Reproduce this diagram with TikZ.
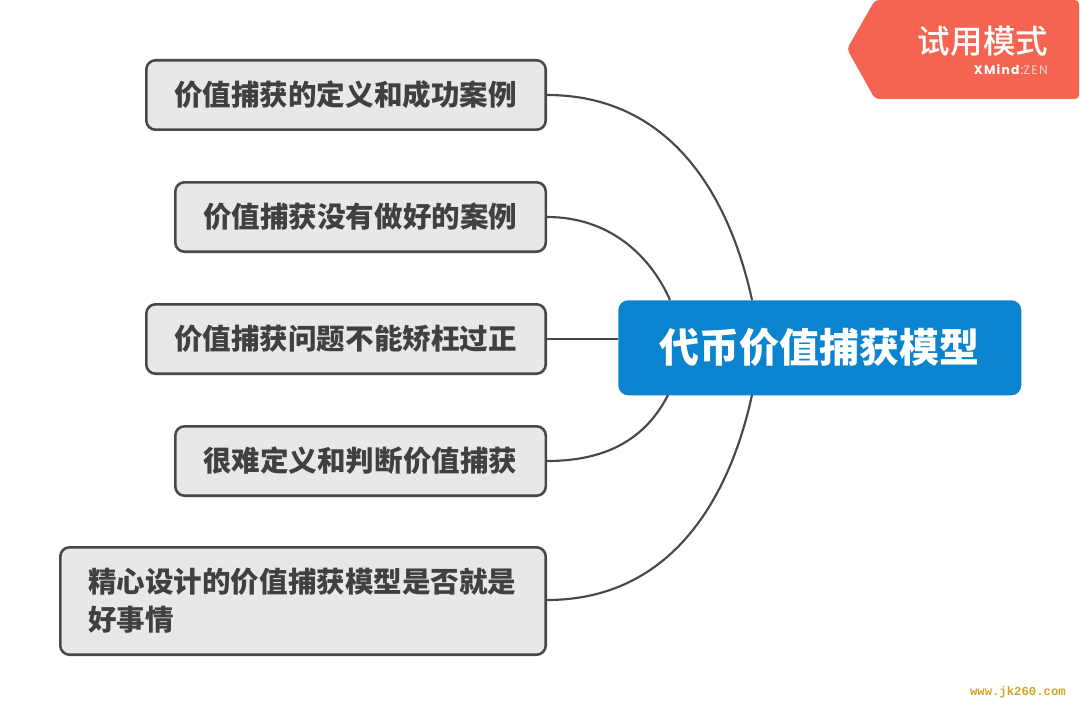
\documentclass[tikz,border=0pt]{standalone}
\usepackage{fontspec}
\newfontfamily\cjk{Noto Sans CJK SC}
\newfontfamily\cjkm{Noto Sans CJK SC Medium}
\newfontfamily\latinf{Poppins}[LetterSpace=10]
\newfontfamily\wmf{Liberation Mono}
\definecolor{boxfill}{HTML}{E8E8E8}
\definecolor{boxline}{HTML}{484848}
\definecolor{txt}{HTML}{404040}
\definecolor{rootblue}{HTML}{0A84CE}
\definecolor{badge}{HTML}{F46451}
\definecolor{wm}{HTML}{D8A32A}
\tikzset{
  x=0.75pt,y=-0.75pt,
  topicbox/.style={draw=boxline,fill=boxfill,line width=1.9pt,rounded corners=7pt,anchor=north west,
    inner xsep=21pt,inner ysep=0pt,align=left,text=txt,font=\cjk\bfseries\fontsize{21.4}{28.5}\selectfont},
  rootbox/.style={fill=rootblue,rounded corners=7.5pt,anchor=north west,inner sep=0pt,
    minimum width=302.25pt,minimum height=71.25pt,text=white,font=\cjk\bfseries\fontsize{30}{36}\selectfont},
  link/.style={draw=boxline,line width=1.6pt},
}
\begin{document}
\begin{tikzpicture}
\useasboundingbox (0,0) rectangle (1080,713);
\fill[white] (0,0) rectangle (1080,713);
% badge
\fill[badge,rounded corners=3pt] (847,49) -- (875,0) -- (1079,0) -- (1079,99) -- (875,99) -- cycle;
\node[anchor=center,inner sep=0pt,text=white,font=\cjkm\fontsize{24.4}{28}\selectfont] (badgetxt) at (983,41) {试用模式};
\node[anchor=east,inner sep=0pt,text=white,font=\latinf\fontsize{9.3}{10}\selectfont] (badgesub) at (1048,70) {\textbf{XMind}:{\color{white!70!badge}ZEN}};
% topics
\node[topicbox,text width=257.6pt,minimum height=52.1pt] (t1) at (145,59) {价值捕获的定义和成功案例};
\node[topicbox,text width=235.9pt,minimum height=52.1pt] (t2) at (174,181) {价值捕获没有做好的案例};
\node[topicbox,text width=257.6pt,minimum height=52.1pt] (t3) at (145,303) {价值捕获问题不能矫枉过正};
\node[topicbox,text width=235.9pt,minimum height=52.1pt] (t4) at (174,425) {很难定义和判断价值捕获};
\node[topicbox,text width=322.1pt,minimum height=80.6pt] (t5) at (59,546) {精心设计的价值捕获模型是否就是\\好事情};
% root
\node[rootbox] (root) at (618,300) {代币价值捕获模型};
\coordinate (r1) at (752,300);
\coordinate (r2) at (670,300);
\coordinate (r3) at (618,339);
\coordinate (r4) at (668,395);
\coordinate (r5) at (752,395);
\coordinate (s5) at (547,600);
% links
\draw[link] (t1.east) .. controls +(120,0) and (728,190) .. (r1);
\draw[link] (t2.east) .. controls +(62,0) and (650,255) .. (r2);
\draw[link] (t3.east) -- (r3);
\draw[link] (t4.east) .. controls +(58,0) and (645,440) .. (r4);
\draw[link] (s5) .. controls +(120,0) and (728,505) .. (r5);
% watermark
\node[anchor=east,inner sep=0pt,text=wm,font=\wmf\bfseries\fontsize{9.2}{11}\selectfont] (mark) at (1066,692) {www.jk260.com};
\end{tikzpicture}
\end{document}
